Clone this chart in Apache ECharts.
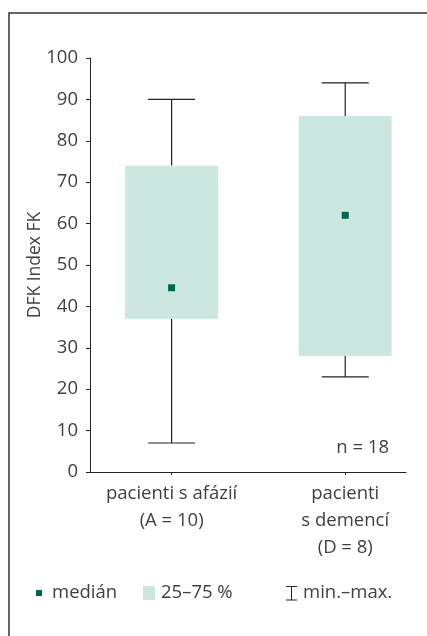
<!DOCTYPE html>
<html>
<head>
<meta charset="utf-8">
<script src="https://cdn.jsdelivr.net/npm/echarts@6/dist/echarts.min.js"></script>
<style>
  html, body { margin: 0; padding: 0; background: #fff; }
  #chart { width: 427px; height: 636px; }
</style>
</head>
<body>
<div id="chart"></div>
<script>
const categories = ['pacienti s afázií\n(A = 10)', 'pacienti\ns demencí\n(D = 8)']
const positions = [1, 2]
const minValues = [7, 23]
const q1Values = [37, 28]
const medianValues = [44.5, 62]
const q3Values = [74, 86]
const maxValues = [90, 94]
const yTicks = [0, 10, 20, 30, 40, 50, 60, 70, 80, 90, 100]

const font = 'Open Sans'
const fontSize = 18.5
const textColor = '#404040'
const boxColor = '#cce7e0'
const medianColor = '#00664f'
const textFont = fontSize + 'px "Open Sans"'

const boxData = positions.map((p, i) => [p, minValues[i], q1Values[i], q3Values[i], maxValues[i]])
const medianData = positions.map((p, i) => [p, medianValues[i]])

const chart = echarts.init(document.getElementById('chart'))

const option = {
  animation: false,
  grid: { left: 90, right: 21, top: 58, bottom: 164 },
  xAxis: {
    type: 'value',
    min: 0.53,
    max: 2.35,
    splitLine: { show: false },
    axisLine: { lineStyle: { color: '#222', width: 1 } },
    axisTick: { customValues: positions, length: 3, lineStyle: { color: '#222' } },
    axisLabel: {
      customValues: positions,
      formatter: v => categories[positions.indexOf(v)] || '',
      fontFamily: font,
      fontSize: fontSize,
      color: textColor,
      lineHeight: 27,
      margin: 8
    }
  },
  yAxis: {
    type: 'value',
    min: 0,
    max: 100,
    interval: 10,
    name: 'DFK Index FK',
    nameLocation: 'middle',
    nameGap: 46,
    nameMoveOverlap: false,
    nameTextStyle: { fontFamily: font, fontSize: 17.5, color: textColor },
    splitLine: { show: false },
    axisLine: { show: true, lineStyle: { color: '#222', width: 1 } },
    axisTick: { show: true, length: 4, lineStyle: { color: '#222' } },
    axisLabel: {
      fontFamily: font,
      fontSize: fontSize,
      color: textColor,
      margin: 12,
      formatter: v => (yTicks.includes(v) ? String(v) : '')
    }
  },
  series: [
    {
      type: 'custom',
      data: boxData,
      renderItem: (params, api) => {
        const x = api.value(0)
        const pMin = api.coord([x, api.value(1)])
        const pQ1 = api.coord([x, api.value(2)])
        const pQ3 = api.coord([x, api.value(3)])
        const pMax = api.coord([x, api.value(4)])
        const boxW = 93
        const capW = 47
        const lineStyle = { stroke: '#222', lineWidth: 1.2 }
        return {
          type: 'group',
          children: [
            { type: 'line', shape: { x1: pMax[0], y1: pMax[1], x2: pQ3[0], y2: pQ3[1] }, style: lineStyle },
            { type: 'line', shape: { x1: pMax[0] - capW / 2, y1: pMax[1], x2: pMax[0] + capW / 2, y2: pMax[1] }, style: lineStyle },
            { type: 'line', shape: { x1: pQ1[0], y1: pQ1[1], x2: pMin[0], y2: pMin[1] }, style: lineStyle },
            { type: 'line', shape: { x1: pMin[0] - capW / 2, y1: pMin[1], x2: pMin[0] + capW / 2, y2: pMin[1] }, style: lineStyle },
            { type: 'rect', shape: { x: pQ3[0] - boxW / 2, y: pQ3[1], width: boxW, height: pQ1[1] - pQ3[1] }, style: { fill: boxColor } }
          ]
        }
      }
    },
    {
      type: 'scatter',
      data: medianData,
      symbol: 'rect',
      symbolSize: 7,
      itemStyle: { color: medianColor, opacity: 1 }
    }
  ],
  graphic: [
    // outer frame (right and bottom edges fall outside the picture)
    { type: 'rect', shape: { x: 9, y: 13, width: 600, height: 800 }, style: { fill: 'none', stroke: '#333', lineWidth: 1.5 }, silent: true },
    { type: 'text', x: 389, y: 448, style: { text: 'n = 18', font: textFont, fill: textColor, align: 'right', verticalAlign: 'middle' } },
    // legend
    { type: 'rect', shape: { x: 36, y: 590, width: 6, height: 6 }, style: { fill: medianColor } },
    { type: 'text', x: 52, y: 593, style: { text: 'medián', font: textFont, fill: textColor, verticalAlign: 'middle' } },
    { type: 'rect', shape: { x: 143, y: 586, width: 12, height: 14 }, style: { fill: boxColor } },
    { type: 'text', x: 161, y: 593, style: { text: '25–75 %', font: textFont, fill: textColor, verticalAlign: 'middle' } },
    { type: 'polyline', shape: { points: [[286, 586.5], [297, 586.5]] }, style: { stroke: '#222', lineWidth: 1 } },
    { type: 'polyline', shape: { points: [[291.5, 586.5], [291.5, 600]] }, style: { stroke: '#222', lineWidth: 1 } },
    { type: 'polyline', shape: { points: [[286, 600], [297, 600]] }, style: { stroke: '#222', lineWidth: 1 } },
    { type: 'text', x: 303, y: 593, style: { text: 'min.–max.', font: textFont, fill: textColor, verticalAlign: 'middle' } }
  ]
}

chart.setOption(option)
</script>
</body>
</html>
